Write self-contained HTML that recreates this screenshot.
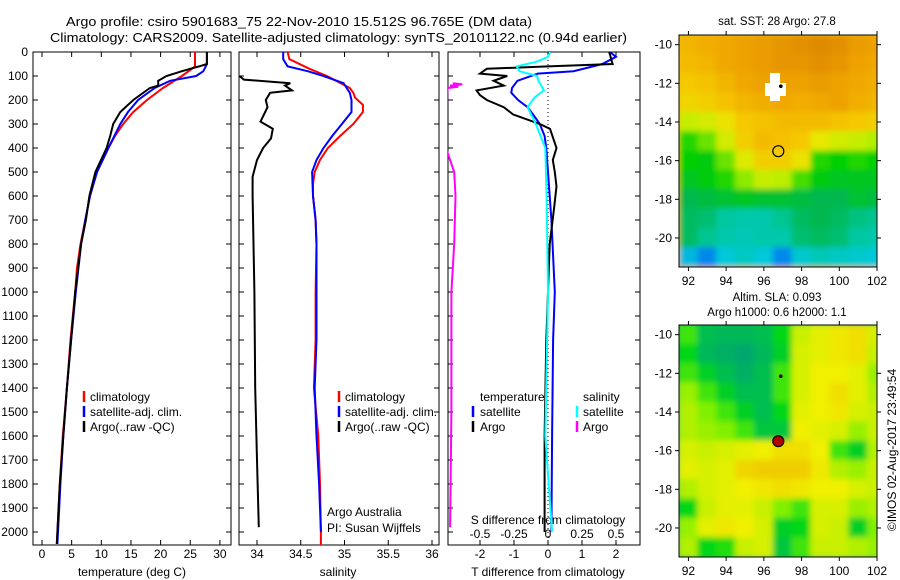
<!DOCTYPE html>
<html><head><meta charset="utf-8"><style>
body{margin:0;background:#fff;}
svg{display:block;font-family:"Liberation Sans",sans-serif;}
</style></head><body>
<svg id="fig" width="900" height="580" viewBox="0 0 900 580" xmlns="http://www.w3.org/2000/svg">
<defs>
<filter id="blur" x="-5%" y="-5%" width="110%" height="110%"><feGaussianBlur stdDeviation="3"/></filter>
<clipPath id="c1"><rect x="33" y="52" width="198" height="493"/></clipPath>
<clipPath id="c2"><rect x="239" y="52" width="200" height="493"/></clipPath>
<clipPath id="c3"><rect x="448" y="52" width="192" height="493"/></clipPath>
<clipPath id="m1"><rect x="679" y="35" width="198" height="232"/></clipPath>
<clipPath id="m2"><rect x="679" y="325" width="198" height="232"/></clipPath>
</defs>
<text x="66" y="26" font-size="13" textLength="466" lengthAdjust="spacingAndGlyphs">Argo profile: csiro 5901683_75 22-Nov-2010 15.512S 96.765E (DM data)</text>
<text x="50" y="42" font-size="13" textLength="577" lengthAdjust="spacingAndGlyphs">Climatology: CARS2009. Satellite-adjusted climatology: synTS_20101122.nc (0.94d earlier)</text>
<g id="g"></g>
</svg>
<script>
// ---- data ----
const tDepth=[0,60,75,100,150,200,250,300,350,400,500,600,700,800,900,1000,1100,1200,1400,1600,1800,1900,2050];
const tClim=[25.8,25.8,25.0,23.6,20.4,17.7,15.4,13.7,12.3,11.2,9.2,8.1,7.3,6.5,5.9,5.6,5.2,4.8,4.2,3.5,3.0,2.8,2.5];
const tSatDepth=[0,50,80,100,120,150,200,250,300,400,500,600,700,800,1000,1200,1400,1600,1800,2050];
const tSat=[27.8,27.8,27.2,26.0,21.6,19.0,16.2,14.5,13.2,11.2,9.3,8.1,7.3,6.6,5.7,4.9,4.2,3.6,3.1,2.6];
const tArgoDepth=[0,50,60,80,100,120,140,150,200,250,300,350,400,500,600,700,800,1000,1200,1400,1600,1800,2050];
const tArgo=[27.8,27.8,26.5,23.6,21.0,19.6,19.6,18.2,15.4,13.2,12.0,11.5,10.9,9.0,8.0,7.4,6.6,5.6,4.9,4.2,3.6,3.0,2.5];

const sDepth=[0,30,70,100,150,170,190,220,250,300,350,400,450,500,550,600,700,800,1000,1200,1400,1600,1800,2000,2055];
const sClim=[34.35,34.37,34.6,34.8,35.06,35.1,35.12,35.21,35.21,35.1,34.95,34.81,34.72,34.66,34.64,34.64,34.67,34.68,34.67,34.67,34.65,34.7,34.72,34.73,34.73];
const sSatDepth=[0,30,60,80,100,130,170,200,250,300,350,400,450,500,600,700,800,1000,1200,1400,1600,1800,2000];
const sSat=[34.3,34.3,34.35,34.58,34.76,34.99,35.06,35.08,35.08,34.97,34.86,34.76,34.68,34.63,34.64,34.67,34.68,34.68,34.68,34.66,34.68,34.71,34.73];
const sArgoDepth=[100,115,130,140,160,170,200,230,260,290,320,360,400,450,520,600,800,1000,1400,1700,1980];
const sArgo=[33.8,33.85,34.38,34.32,34.4,34.15,34.1,34.12,34.08,34.04,34.18,34.16,34.07,34.0,33.95,33.95,33.96,33.97,33.98,34.0,34.02];

const dTSatDepth=[0,20,50,80,90,120,150,170,200,230,260,300,350,400,500,700,1000,1200,1600,2000];
const dTSat=[1.82,2.0,1.6,0.75,-0.3,-0.9,-1.06,-1.08,-0.88,-0.6,-0.44,-0.24,-0.1,-0.05,0.0,0.1,0.2,0.15,0.12,0.1];
const dTArgoDepth=[0,50,60,70,90,100,120,140,160,180,200,230,260,300,320,400,450,500,560,650,800,1000,1200,1600,2000];
const dTArgo=[1.8,1.9,0.0,-1.8,-2.0,-1.2,-1.6,-1.3,-2.1,-2.0,-1.8,-1.3,-1.03,-0.24,0.06,0.25,0.14,0.2,0.25,0.18,0.05,0.0,-0.05,-0.1,-0.1];
const dSSatDepth=[0,20,40,60,80,100,120,160,190,230,300,400,600,1000,1600,2000];
const dSSat=[0.015,0.0,-0.08,-0.23,-0.21,-0.08,-0.07,-0.03,-0.1,-0.15,-0.09,-0.02,-0.01,0.0,-0.02,0.03];
const dSArgoDepth=[130,135,140,145,150,400,500,600,800,1000,1500,1980];
const dSArgo=[-0.7,-0.63,-0.72,-0.66,-0.74,-0.75,-0.69,-0.68,-0.69,-0.71,-0.71,-0.72];

const depthTicks=[0,100,200,300,400,500,600,700,800,900,1000,1100,1200,1300,1400,1500,1600,1700,1800,1900,2000];
const tTicks=[0,5,10,15,20,25,30];
const sTicks=[34,34.5,35,35.5,36];
const dTTicks=[-2,-1,0,1,2];
const dSTicks=[-0.5,-0.25,0,0.25,0.5];
const dSTickLabels=["-0.5","-0.25","0","0.25","0.5"];

const mapLons=[92,93,94,95,96,97,98,99,100,101,102];
const mapLats=[-10,-11,-12,-13,-14,-15,-16,-17,-18,-19,-20,-21];
const lonTicks=[92,94,96,98,100,102];
const latTicks=[-10,-12,-14,-16,-18,-20];
const sst=[
[28.3,28.4,28.5,28.6,28.7,28.8,28.9,29.0,28.9,28.7,28.6],
[28.2,28.3,28.5,28.6,28.7,28.8,28.8,28.9,28.8,28.6,28.5],
[28.0,28.1,28.3,28.5,28.6,28.6,28.6,28.7,28.6,28.5,28.4],
[27.8,27.9,28.1,28.3,28.4,28.5,28.4,28.5,28.6,28.4,28.3],
[27.2,27.3,27.6,28.0,28.1,28.2,28.2,28.2,28.1,28.0,27.9],
[26.6,26.8,27.3,27.9,28.2,28.1,28.0,27.5,27.3,27.2,27.0],
[26.5,26.4,26.8,27.4,27.9,27.9,27.6,26.6,26.5,26.6,26.5],
[26.3,26.4,26.6,26.9,27.2,27.1,26.7,26.4,26.3,26.3,26.3],
[26.0,26.1,26.2,26.3,26.2,26.2,26.1,26.0,26.0,26.2,26.1],
[25.9,25.8,25.5,25.4,25.4,25.6,25.9,26.0,25.9,25.7,25.6],
[25.9,25.6,25.4,25.3,25.4,25.4,25.8,25.9,25.8,25.5,25.4],
[24.9,24.6,25.0,25.2,25.0,24.6,25.1,25.3,25.2,25.1,25.0]];
const sla=[
[0.0,-0.05,-0.06,-0.06,-0.05,-0.02,0.05,0.07,0.09,0.1,0.06],
[-0.02,-0.06,-0.07,-0.08,-0.06,-0.03,0.06,0.07,0.09,0.1,0.05],
[0.0,-0.03,-0.05,-0.07,-0.05,0.0,0.06,0.08,0.08,0.07,0.03],
[0.03,0.0,-0.03,-0.05,-0.05,0.0,0.06,0.08,0.1,0.07,0.04],
[0.04,0.02,0.0,-0.03,-0.05,-0.02,0.07,0.08,0.09,0.06,0.05],
[0.04,0.03,0.02,0.0,-0.04,-0.04,0.08,0.07,0.06,0.03,0.05],
[0.06,0.05,0.06,0.07,0.08,0.1,0.1,0.08,0.0,-0.03,0.04],
[0.07,0.06,0.07,0.11,0.12,0.13,0.12,0.09,0.04,0.03,0.05],
[0.04,0.06,0.07,0.08,0.09,0.1,0.09,0.08,0.08,0.06,0.05],
[-0.02,0.05,0.07,0.07,0.05,0.02,0.0,0.06,0.06,0.03,0.04],
[0.03,0.07,0.09,0.08,0.06,-0.03,-0.02,0.06,0.05,-0.03,0.02],
[0.04,-0.02,-0.01,0.05,0.06,-0.04,0.0,0.05,0.05,0.04,0.03]];
const argoLon=96.765, argoLat=-15.512;

// ---- helpers ----
const NS="http://www.w3.org/2000/svg";
const G=document.getElementById('g');
function el(tag,attrs,parent){const e=document.createElementNS(NS,tag);for(const k in attrs)e.setAttribute(k,attrs[k]);(parent||G).appendChild(e);return e;}
function txt(s,x,y,attrs,parent){const e=el('text',Object.assign({x:x,y:y,'font-size':12},attrs||{}),parent);e.textContent=s;return e;}
const yD=d=>52+d*0.24;
const xT=t=>42+t*5.93;
const xS=s=>257+(s-34)*87.5;
const xDT=t=>548+t*34;
const xDS=s=>548+s*136;
const PB=545;

function line(xs,ds,fx,color,clip,name,w){
  const pts=xs.map((v,i)=>fx(v).toFixed(1)+','+yD(ds[i]).toFixed(1)).join(' ');
  const p=el('polyline',{points:pts,fill:'none',stroke:color,'stroke-width':w||2,'clip-path':'url(#'+clip+')'});
  
  
}
function frame(x0,x1,name){
  const r=el('rect',{x:x0,y:52,width:x1-x0,height:PB-52,fill:'none',stroke:'#000','stroke-width':1});
  
  
  depthTicks.forEach(d=>{el('line',{x1:x0,x2:x0+5,y1:yD(d),y2:yD(d),stroke:'#000'});el('line',{x1:x1-5,x2:x1,y1:yD(d),y2:yD(d),stroke:'#000'});});
}
function xticks(ticks,fx,labels,y,name){
  ticks.forEach((t,i)=>{const x=fx(t);
    el('line',{x1:x,x2:x,y1:52,y2:57,stroke:'#000'});el('line',{x1:x,x2:x,y1:PB-5,y2:PB,stroke:'#000'});
    const e=txt(labels?labels[i]:String(t),x,y,{'text-anchor':'middle'});
    
    
  });
}

// ---- panel 1 ----
frame(33,231,'temperature-panel');
depthTicks.forEach(d=>{const e=txt(String(d),28,yD(d)+4,{'text-anchor':'end'});
  
  });
xticks(tTicks,xT,null,558,'temperature-tick-label');
txt('temperature (deg C)',132,576,{'text-anchor':'middle'});
line(tClim,tDepth,xT,'#f00','c1','temperature-climatology-line');
line(tSat,tSatDepth,xT,'#00f','c1','temperature-satellite-line');
line(tArgo,tArgoDepth,xT,'#000','c1','temperature-argo-line');
[['climatology','#f00'],['satellite-adj. clim.','#00f'],['Argo(..raw -QC)','#000']].forEach((l,i)=>{
  const y=401+i*15; const gg=el('g',{});
  
  
  el('line',{x1:84,x2:84,y1:y-10,y2:y+1,stroke:l[1],'stroke-width':2.5},gg);
  txt(l[0],90,y,{},gg);
});

// ---- panel 2 ----
frame(239,439,'salinity-panel');
xticks(sTicks,xS,null,558,'salinity-tick-label');
txt('salinity',338,576,{'text-anchor':'middle'});
line(sClim,sDepth,xS,'#f00','c2','salinity-climatology-line');
line(sSat,sSatDepth,xS,'#00f','c2','salinity-satellite-line');
line(sArgo,sArgoDepth,xS,'#000','c2','salinity-argo-line');
[['climatology','#f00'],['satellite-adj. clim.','#00f'],['Argo(..raw -QC)','#000']].forEach((l,i)=>{
  const y=401+i*15; const gg=el('g',{});
  
  
  el('line',{x1:339,x2:339,y1:y-10,y2:y+1,stroke:l[1],'stroke-width':2.5},gg);
  txt(l[0],345,y,{},gg);
});
txt('Argo Australia',327,545-29,{});
txt('PI: Susan Wijffels',327,545-13,{});

// ---- panel 3 ----
frame(448,640,'difference-panel');
el('line',{x1:548,x2:548,y1:52,y2:PB,stroke:'#000','stroke-dasharray':'1,3'});
dTTicks.forEach(t=>{const x=xDT(t);el('line',{x1:x,x2:x,y1:PB-5,y2:PB,stroke:'#000'});
  const e=txt(String(t),x,558,{'text-anchor':'middle'});
  
  });
dSTicks.forEach((t,i)=>{const x=xDS(t);el('line',{x1:x,x2:x,y1:52,y2:57,stroke:'#000'});
  const e=txt(dSTickLabels[i],x,538,{'text-anchor':'middle'});
  
  });
txt('S difference from climatology',548,524,{'text-anchor':'middle'});
txt('T difference from climatology',548,576,{'text-anchor':'middle'});
line(dSArgo,dSArgoDepth,xDS,'#f0f','c3','s-diff-argo-line');
line(dTSat,dTSatDepth,xDT,'#00f','c3','t-diff-satellite-line');
line(dTArgo,dTArgoDepth,xDT,'#000','c3','t-diff-argo-line');
line(dSSat,dSSatDepth,xDS,'#0ff','c3','s-diff-satellite-line');
txt('temperature',480,401,{});
txt('salinity',583,401,{});
[['satellite','#00f',473,480],['Argo','#000',473,480],['satellite','#0ff',577,583],['Argo','#f0f',577,583]].forEach((l,i)=>{
  const y=416+(i%2)*15; const gg=el('g',{});
  
  
  el('line',{x1:l[2],x2:l[2],y1:y-10,y2:y+1,stroke:l[1],'stroke-width':2.5},gg);
  txt(l[0],l[3],y,{},gg);
});

// ---- maps ----
function sstColor(v){
  const stops=[[24.5,[0,120,240]],[25,[0,200,216]],[25.5,[0,200,160]],[26,[0,184,80]],[26.5,[0,208,0]],[27,[176,240,0]],[27.5,[232,232,0]],[28,[245,200,0]],[28.5,[240,168,0]],[29,[224,138,0]]];
  return interp(stops,v);
}
function slaColor(v){
  const stops=[[-0.08,[0,168,110]],[-0.05,[0,190,80]],[-0.02,[0,215,20]],[0.02,[128,240,0]],[0.05,[200,240,0]],[0.08,[240,240,0]],[0.12,[240,205,0]]];
  return interp(stops,v);
}
function interp(stops,v){
  if(v<=stops[0][0])return 'rgb('+stops[0][1]+')';
  for(let i=1;i<stops.length;i++){if(v<=stops[i][0]){const a=stops[i-1],b=stops[i],f=(v-a[0])/(b[0]-a[0]);
    return 'rgb('+a[1].map((c,k)=>Math.round(c+(b[1][k]-c)*f)).join(',')+')';}}
  return 'rgb('+stops[stops.length-1][1]+')';
}
function map(top,grid,colorFn,clip,name){
  const xL=lon=>679+(lon-91.5)*18.86;
  const yL=lat=>top+(-9.5-lat)*19.33;
  const gm=el('g',{'clip-path':'url(#'+clip+')'});
  
  
  const inner=el('g',{filter:'url(#blur)'},gm);
  el('rect',{x:670,y:top-10,width:220,height:250,fill:colorFn(grid[5][5])},inner);
  mapLats.forEach((lat,r)=>mapLons.forEach((lon,c)=>{
    const cell=el('rect',{x:xL(lon-0.5)-0.5,y:yL(lat+0.5)-0.5,width:19.9,height:20.4,fill:colorFn(grid[r][c])},inner);
    
    
  }));
  el('rect',{x:679,y:top,width:198,height:232,fill:'none',stroke:'#000'});
  lonTicks.forEach(l=>{const x=xL(l);el('line',{x1:x,x2:x,y1:top,y2:top-4,stroke:'#000'});el('line',{x1:x,x2:x,y1:top+232,y2:top+236,stroke:'#000'});
    const e=txt(String(l),x,top+250,{'text-anchor':'middle'});
    
    });
  latTicks.forEach(l=>{const y=yL(l);el('line',{x1:679,x2:675,y1:y,y2:y,stroke:'#000'});el('line',{x1:877,x2:881,y1:y,y2:y,stroke:'#000'});
    const e=txt(String(l),672,y+4,{'text-anchor':'end'});
    
    });
  return {xL,yL};
}
const m1=map(35,sst,sstColor,'m1','sst-map');
txt('sat. SST: 28 Argo: 27.8',777,25,{'text-anchor':'middle','font-size':11.5});
// white missing-data patch
const wp=el('path',{d:'M770,73h10v10h6v13h-6v5h-10v-5h-5v-13h5z',fill:'#fff'});

el('circle',{cx:m1.xL(96.9),cy:m1.yL(-12.15),r:1.8,fill:'#000'});
const c1=el('circle',{cx:m1.xL(argoLon),cy:m1.yL(argoLat),r:5.5,fill:'none',stroke:'#000','stroke-width':1.2});



const m2=map(325,sla,slaColor,'m2','sla-map');
txt('Altim. SLA: 0.093',777,301,{'text-anchor':'middle','font-size':11.5});
txt('Argo h1000: 0.6 h2000: 1.1',777,316,{'text-anchor':'middle','font-size':11.5});
el('circle',{cx:m2.xL(96.9),cy:m2.yL(-12.15),r:1.8,fill:'#000'});
const c2=el('circle',{cx:m2.xL(argoLon),cy:m2.yL(argoLat),r:5.5,fill:'#b00000',stroke:'#000','stroke-width':1.2});


txt('©IMOS 02-Aug-2017 23:49:54',0,0,{'text-anchor':'middle',transform:'translate(896,450) rotate(-90)'});
</script>
</body></html>
